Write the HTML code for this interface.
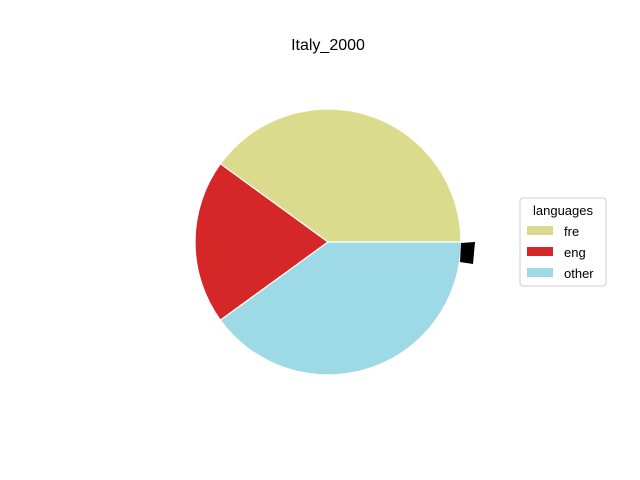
<!DOCTYPE html>
<html><head><meta charset="utf-8"><style>body{margin:0;background:#fff}svg{display:block;font-family:"Liberation Sans","DejaVu Sans",sans-serif}</style></head>
<body>
<svg id="c" width="640" height="480">
<rect width="640" height="480" fill="#fff"/>
<text x="328" y="50" text-anchor="middle" font-size="16">Italy_2000</text>
<g id="slices"></g>
<polygon points="461,243 475,242 473,264 460,262" fill="#000"/>
<g>
<rect x="520" y="198" width="86" height="88" rx="3" fill="#fff" stroke="#ccc"/>
<text x="563" y="215" text-anchor="middle" font-size="13">languages</text>
<g id="leg"></g>
</g>
</svg>
<script>
const labels=["fre","eng","other"];
const values=[40,20,40];
const colors=["#dbdb8d","#d62728","#9edae5"];
const cx=328,cy=242,r=133;
const total=values.reduce((a,b)=>a+b,0);
const g=document.getElementById('slices'),lg=document.getElementById('leg');
const ns="http://www.w3.org/2000/svg";
let a=0;
values.forEach((v,i)=>{
 const a2=a+v/total*2*Math.PI;
 const x1=cx+r*Math.cos(a),y1=cy-r*Math.sin(a),x2=cx+r*Math.cos(a2),y2=cy-r*Math.sin(a2);
 const p=document.createElementNS(ns,'path');
 p.setAttribute('d',`M${cx},${cy}L${x1},${y1}A${r},${r} 0 ${a2-a>Math.PI?1:0} 0 ${x2},${y2}Z`);
 p.setAttribute('fill',colors[i]);p.setAttribute('stroke','#fff');p.setAttribute('stroke-width','1.2');
 
 
 g.appendChild(p);
 a=a2;
 const y=226+i*21;
 const rc=document.createElementNS(ns,'rect');
 rc.setAttribute('x',527);rc.setAttribute('y',y);rc.setAttribute('width',26);rc.setAttribute('height',9);rc.setAttribute('fill',colors[i]);
 
 
 lg.appendChild(rc);
 const t=document.createElementNS(ns,'text');
 t.setAttribute('x',564);t.setAttribute('y',y+10);t.setAttribute('font-size','13');t.textContent=labels[i];
 
 
 lg.appendChild(t);
});
</script>
</body></html>
